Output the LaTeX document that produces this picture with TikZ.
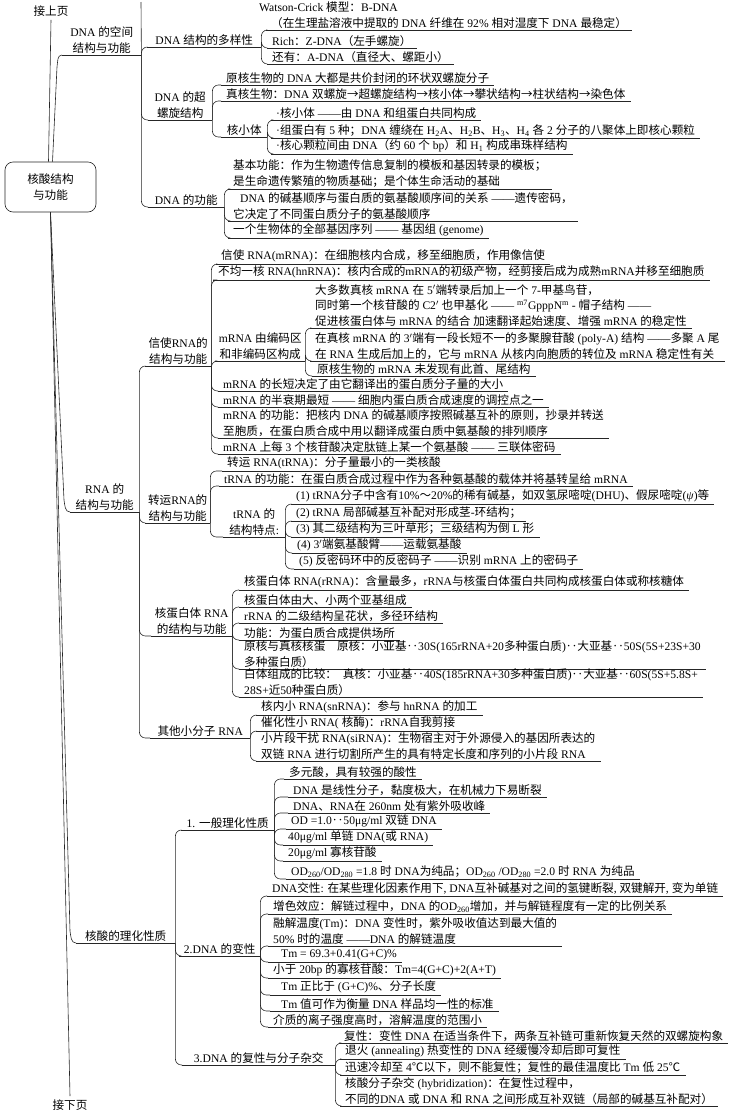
\documentclass[tikz,border=0pt]{standalone}
\usepackage{fontspec}
\setmainfont{Liberation Serif}
\newfontfamily\cjkfont{Noto Sans CJK SC}
% Chinese characters are set in the CJK font, the rest in Liberation Serif
\XeTeXinterchartokenstate=1
\newXeTeXintercharclass\cjkcls
\newcount\cjkc
\cjkc="2E80
\loop\XeTeXcharclass\cjkc=\cjkcls\advance\cjkc by 1 \ifnum\cjkc<"A000 \repeat
\cjkc="FF00
\loop\XeTeXcharclass\cjkc=\cjkcls\advance\cjkc by 1 \ifnum\cjkc<"FFF0 \repeat
\XeTeXcharclass"2025=\cjkcls
\XeTeXcharclass"2103=\cjkcls
\XeTeXcharclass"2192=\cjkcls
\XeTeXinterchartoks 0 \cjkcls = {\cjkfont}
\XeTeXinterchartoks 4095 \cjkcls = {\cjkfont}
\XeTeXinterchartoks \cjkcls 0 = {\rmfamily}
\XeTeXinterchartoks \cjkcls 4095 = {\rmfamily}
\usetikzlibrary{positioning,calc}

\begin{document}
\begin{tikzpicture}[x=1pt, y=-1pt,
  every node/.style={font=\fontsize{11.6}{15.5}\selectfont},
  inkline/.style={draw=black!85, line width=0.6pt},
  conn/.style={inkline, rounded corners=6pt},
  leaf/.style={
    anchor=south west, inner xsep=5pt, inner ysep=1.5pt, align=left,
    append after command={(\tikzlastnode.south west) edge[inkline] (\tikzlastnode.south east)}
  },
  topic/.style={leaf, inner xsep=1pt, align=center, minimum width=#1},
  rootbox/.style={
    inkline, rounded corners=8pt,
    minimum width=91pt, minimum height=50pt, align=center
  }
]
\useasboundingbox (0,0) rectangle (731,1114);

\node[rootbox] (root) at (50.5,187) {核酸结构\\与功能};
\node (prevpg) at (51,11) {接上页};
\node (nextpg) at (70,1105) {接下页};
\coordinate (topc) at (141,2);

% DNA 的空间结构与功能
\node[topic=79pt] (dnaA) at (62,55) {DNA 的空间\\结构与功能};
\node[topic=114pt] (duo) at (147,47) {DNA 结构的多样性};
\node[leaf] (wc) at (266,30) {\hspace*{-12pt}Watson-Crick 模型：B-DNA\\（在生理盐溶液中提取的 DNA 纤维在 92\% 相对湿度下 DNA 最稳定）};
\node[leaf] (rich) at (267,48) {Rich：Z-DNA（左手螺旋）};
\node[leaf] (ahas) at (267,64) {还有：A-DNA（直径大、螺距小）};

\node[topic=64pt] (chao) at (148,120) {DNA 的超\\螺旋结构};
\node[leaf] (yuanhe) at (221,85) {原核生物的 DNA 大都是共价封闭的环状双螺旋分子};
\node[leaf] (zhenhe) at (221,101) {真核生物：DNA 双螺旋→超螺旋结构→核小体→攀状结构→柱状结构→染色体};
\node[topic=46pt] (hxt) at (221,137) {核小体};
\node[leaf] (hx1) at (271,120) {·核小体 ——由 DNA 和组蛋白共同构成};
\node[leaf] (hx2) at (271,138) {·组蛋白有 5 种；DNA 缠绕在 H\textsubscript{2}A、H\textsubscript{2}B、H\textsubscript{3}、H\textsubscript{4} 各 2 分子的八聚体上即核心颗粒};
\node[leaf] (hx3) at (271,154) {·核心颗粒间由 DNA（约 60 个 bp）和 H\textsubscript{1} 构成串珠样结构};

\node[topic=76pt] (gn) at (148,207) {DNA 的功能};
\node[leaf] (gn1) at (228,189) {基本功能：作为生物遗传信息复制的模板和基因转录的模板；\\是生命遗传繁殖的物质基础；是个体生命活动的基础};
\node[leaf] (gn2) at (228,221) {\hspace*{7pt}DNA 的碱基顺序与蛋白质的氨基酸顺序间的关系 ——遗传密码，\\它决定了不同蛋白质分子的氨基酸顺序};
\node[leaf] (gn3) at (228,238) {一个生物体的全部基因序列 —— 基因组 (genome)};

% RNA 的结构与功能
\node[topic=69pt] (rna) at (70,512) {RNA 的\\结构与功能};
\node[topic=66pt] (xs) at (145,366) {信使RNA的\\结构与功能};
\node[leaf] (xs1) at (216,264) {信使 RNA(mRNA)：在细胞核内合成，移至细胞质，作用像信使};
\node[leaf] (xs2) at (213,280) {不均一核 RNA(hnRNA)：核内合成的mRNA的初级产物，经剪接后成为成熟mRNA并移至细胞质};
\node[topic=90pt] (bm) at (215,361) {mRNA 由编码区\\和非编码区构成};
\node[leaf] (bm1) at (310,328) {大多数真核 mRNA 在 5$'$端转录后加上一个 7-甲基鸟苷，\\同时第一个核苷酸的 C2$'$ 也甲基化 —— \textsuperscript{m7}GpppN\textsuperscript{m} - 帽子结构 ——\\促进核蛋白体与 mRNA 的结合 加速翻译起始速度、增强 mRNA 的稳定性};
\node[leaf] (bm2) at (310,361) {在真核 mRNA 的 3$'$端有一段长短不一的多聚腺苷酸 (poly-A) 结构 ——多聚 A 尾\\在 RNA 生成后加上的，它与 mRNA 从核内向胞质的转位及 mRNA 稳定性有关};
\node[leaf] (bm3) at (312,376) {原核生物的 mRNA 未发现有此首、尾结构};
\node[leaf] (xs3) at (218,391) {mRNA 的长短决定了由它翻译出的蛋白质分子量的大小};
\node[leaf] (xs4) at (218,407) {mRNA 的半衰期最短 —— 细胞内蛋白质合成速度的调控点之一};
\node[leaf] (xs5) at (218,438) {mRNA 的功能：把核内 DNA 的碱基顺序按照碱基互补的原则，抄录并转送\\至胞质，在蛋白质合成中用以翻译成蛋白质中氨基酸的排列顺序};
\node[leaf] (xs6) at (218,454) {mRNA 上每 3 个核苷酸决定肽链上某一个氨基酸 —— 三联体密码};

\node[topic=65pt] (zy) at (145,523) {转运RNA的\\结构与功能};
\node[leaf] (zy1) at (222,471) {转运 RNA(tRNA)：分子量最小的一类核酸};
\node[leaf] (zy2) at (219,486) {tRNA 的功能：在蛋白质合成过程中作为各种氨基酸的载体并将基转呈给 mRNA};
\node[topic=62pt] (td) at (223,537) {tRNA 的\\结构特点:};
\node[leaf] (td1) at (291,504) {(1) tRNA分子中含有10\%～20\%的稀有碱基，如双氢尿嘧啶(DHU)、假尿嘧啶(\textit{ψ})等};
\node[leaf] (td2) at (291,521) {(2) tRNA 局部碱基互补配对形成茎-环结构；};
\node[leaf] (td3) at (291,537) {(3) 其二级结构为三叶草形；三级结构为倒 L 形};
\node[leaf] (td4) at (292,553) {(4) 3$'$端氨基酸臂——运载氨基酸};
\node[leaf] (td5) at (294,569) {(5) 反密码环中的反密码子 ——识别 mRNA 上的密码子};

\node[topic=81pt] (hdb) at (151,636) {核蛋白体 RNA\\的结构与功能};
\node[leaf] (hd1) at (239,590) {核蛋白体 RNA(rRNA)：含量最多，rRNA与核蛋白体蛋白共同构成核蛋白体或称核糖体};
\node[leaf] (hd2) at (239,607) {核蛋白体由大、小两个亚基组成};
\node[leaf] (hd3) at (239,623) {rRNA 的二级结构呈花状，多径环结构};
\node[leaf] (hd4) at (239,640) {功能：为蛋白质合成提供场所};
\node[leaf] (hd5) at (239,669) {原核与真核核蛋\quad 原核：小亚基‥30S(165rRNA+20多种蛋白质)‥大亚基‥50S(5S+23S+30\\多种蛋白质）};
\node[leaf] (hd6) at (239,697) {白体组成的比较：\enspace 真核：小亚基‥40S(185rRNA+30多种蛋白质)‥大亚基‥60S(5S+5.8S+\\28S+近50种蛋白质）};

\node[topic=100pt] (qt) at (150,738) {其他小分子 RNA};
\node[leaf] (qt1) at (256,715) {核内小 RNA(snRNA)：参与 hnRNA 的加工};
\node[leaf] (qt2) at (256,731) {催化性小 RNA( 核酶)：rRNA自我剪接};
\node[leaf] (qt3) at (256,761) {小片段干扰 RNA(siRNA)：生物宿主对于外源侵入的基因所表达的\\双链 RNA 进行切割所产生的具有特定长度和序列的小片段 RNA};

% 核酸的理化性质
\node[topic=99pt] (lhz) at (76,943) {核酸的理化性质};
\node[topic=93pt] (ybl) at (181,830) {1. 一般理化性质};
\node[leaf] (y1) at (284,779) {多元酸，具有较强的酸性};
\node[leaf] (y2) at (288,797) {DNA 是线性分子，黏度极大，在机械力下易断裂};
\node[leaf] (y3) at (288,813) {DNA、RNA在 260nm 处有紫外吸收峰};
\node[leaf] (y4) at (286,829) {OD =1.0‥50μg/ml 双链 DNA};
\node[leaf] (y5) at (283,845) {40μg/ml 单链 DNA(或 RNA)};
\node[leaf] (y6) at (283,861) {20μg/ml 寡核苷酸};
\node[leaf] (y7) at (286,879) {OD\textsubscript{260}/OD\textsubscript{280} =1.8 时 DNA为纯品；OD\textsubscript{260} /OD\textsubscript{280} =2.0 时 RNA 为纯品};

\node[topic=81pt] (bx) at (179,956) {2.DNA 的变性};
\node[leaf] (b1) at (267,896) {DNA交性: 在某些理化因素作用下, DNA互补碱基对之间的氢键断裂, 双键解开, 变为单链};
\node[leaf] (b2) at (268,914) {增色效应：解链过程中，DNA 的OD\textsubscript{260}增加，并与解链程度有一定的比例关系};
\node[leaf] (b3) at (268,946) {融解温度(Tm)：DNA 变性时，紫外吸收值达到最大值的\\50\% 时的温度 ——DNA 的解链温度};
\node[leaf] (b4) at (268,962) {\hspace*{8pt}Tm = 69.3+0.41(G+C)\%};
\node[leaf] (b5) at (268,978) {小于 20bp 的寡核苷酸：Tm=4(G+C)+2(A+T)};
\node[leaf] (b6) at (270,995) {\hspace*{6pt}Tm 正比于 (G+C)\%、分子长度};
\node[leaf] (b7) at (270,1011) {\hspace*{6pt}Tm 值可作为衡量 DNA 样品均一性的标准};
\node[leaf] (b8) at (268,1027) {介质的离子强度高时，溶解温度的范围小};

\node[topic=153pt] (fx) at (182,1065) {3.DNA 的复性与分子杂交};
\node[leaf] (f1) at (339,1043) {复性：变性 DNA 在适当条件下，两条互补链可重新恢复天然的双螺旋构象};
\node[leaf] (f2) at (340,1059) {退火 (annealing) 热变性的 DNA 经缓慢冷却后即可复性};
\node[leaf] (f3) at (340,1075) {迅速冷却至 4℃以下，则不能复性；复性的最佳温度比 Tm 低 25℃};
\node[leaf] (f4) at (340,1106) {核酸分子杂交 (hybridization)：在复性过程中，\\不同的DNA 或 DNA 和 RNA 之间形成互补双链（局部的碱基互补配对）};

% trunk
\draw[inkline] (prevpg.south) -- ([xshift=-2pt]root.north);
\draw[inkline] ([xshift=2pt]root.north) -- ([xshift=-5pt,yshift=-12pt]dnaA.south west) to[out=80,in=180] (dnaA.south west);
\draw[inkline] (root.south) -- ([xshift=-6pt,yshift=12pt]rna.south west) to[out=-80,in=180] (rna.south west);
\draw[inkline] (root.south) -- ([xshift=-6pt,yshift=12pt]lhz.south west) to[out=-80,in=180] (lhz.south west);
\draw[inkline] (root.south) -- (nextpg.north);

% brackets
\draw[conn] (dnaA.south east) -- (topc);
\draw[conn] (dnaA.south east) |- (duo.south west);
\draw[conn] (dnaA.south east) |- (chao.south west);
\draw[conn] (dnaA.south east) |- (gn.south west);
\draw[conn] (duo.south east) |- (wc.south west);
\draw[conn] (duo.south east) |- (rich.south west);
\draw[conn] (duo.south east) |- (ahas.south west);
\draw[conn] (chao.south east) |- (yuanhe.south west);
\draw[conn] (chao.south east) |- (zhenhe.south west);
\draw[conn] (chao.south east) |- (hxt.south west);
\draw[conn] (hxt.south east) |- (hx1.south west);
\draw[conn] (hxt.south east) |- (hx2.south west);
\draw[conn] (hxt.south east) |- (hx3.south west);
\draw[conn] (gn.south east) |- (gn1.south west);
\draw[conn] (gn.south east) |- (gn2.south west);
\draw[conn] (gn.south east) |- (gn3.south west);

\draw[conn] (rna.south east) |- (xs.south west);
\draw[conn] (rna.south east) |- (zy.south west);
\draw[conn] (rna.south east) |- (hdb.south west);
\draw[conn] (rna.south east) |- (qt.south west);
\draw[conn] (xs.south east) |- (xs1.south west);
\draw[conn] (xs.south east) |- (xs2.south west);
\draw[conn] (xs.south east) |- (bm.south west);
\draw[conn] (xs.south east) |- (xs3.south west);
\draw[conn] (xs.south east) |- (xs4.south west);
\draw[conn] (xs.south east) |- (xs5.south west);
\draw[conn] (xs.south east) |- (xs6.south west);
\draw[conn] (bm.south east) |- (bm1.south west);
\draw[conn] (bm.south east) |- (bm2.south west);
\draw[conn] (bm.south east) |- (bm3.south west);
\draw[conn] (zy.south east) |- (zy1.south west);
\draw[conn] (zy.south east) |- (zy2.south west);
\draw[conn] (zy.south east) |- (td.south west);
\draw[conn] (td.south east) |- (td1.south west);
\draw[conn] (td.south east) |- (td2.south west);
\draw[conn] (td.south east) |- (td3.south west);
\draw[conn] (td.south east) |- (td4.south west);
\draw[conn] (td.south east) |- (td5.south west);
\draw[conn] (hdb.south east) |- (hd1.south west);
\draw[conn] (hdb.south east) |- (hd2.south west);
\draw[conn] (hdb.south east) |- (hd3.south west);
\draw[conn] (hdb.south east) |- (hd4.south west);
\draw[conn] (hdb.south east) |- (hd5.south west);
\draw[conn] (hdb.south east) |- (hd6.south west);
\draw[conn] (qt.south east) |- (qt1.south west);
\draw[conn] (qt.south east) |- (qt2.south west);
\draw[conn] (qt.south east) |- (qt3.south west);

\draw[conn] (lhz.south east) |- (ybl.south west);
\draw[conn] (lhz.south east) |- (bx.south west);
\draw[conn] (lhz.south east) |- (fx.south west);
\draw[conn] (ybl.south east) |- (y1.south west);
\draw[conn] (ybl.south east) |- (y2.south west);
\draw[conn] (ybl.south east) |- (y3.south west);
\draw[conn] (ybl.south east) |- (y4.south west);
\draw[conn] (ybl.south east) |- (y5.south west);
\draw[conn] (ybl.south east) |- (y6.south west);
\draw[conn] (ybl.south east) |- (y7.south west);
\draw[conn] (bx.south east) |- (b1.south west);
\draw[conn] (bx.south east) |- (b2.south west);
\draw[conn] (bx.south east) |- (b3.south west);
\draw[conn] (bx.south east) |- (b4.south west);
\draw[conn] (bx.south east) |- (b5.south west);
\draw[conn] (bx.south east) |- (b6.south west);
\draw[conn] (bx.south east) |- (b7.south west);
\draw[conn] (bx.south east) |- (b8.south west);
\draw[conn] (fx.south east) |- (f1.south west);
\draw[conn] (fx.south east) |- (f2.south west);
\draw[conn] (fx.south east) |- (f3.south west);
\draw[conn] (fx.south east) |- (f4.south west);
\end{tikzpicture}
\end{document}
